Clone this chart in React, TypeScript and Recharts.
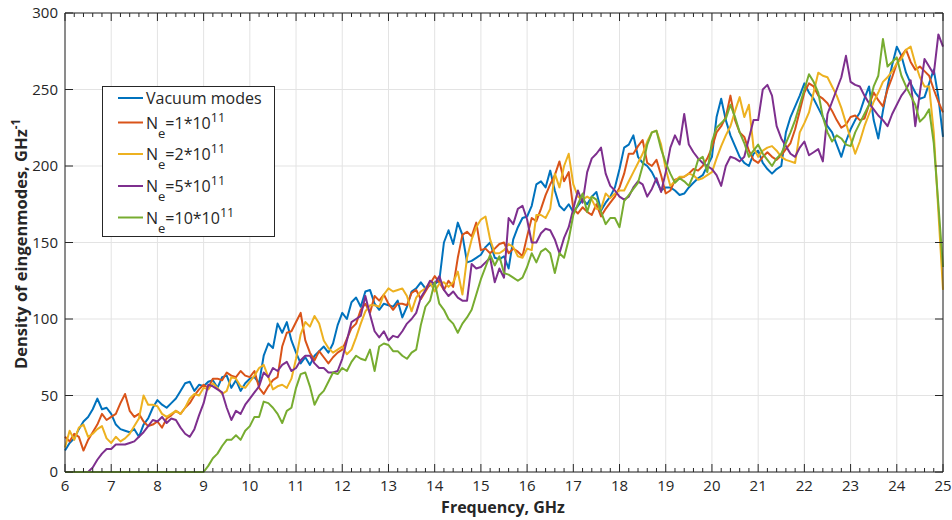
import { LineChart, Line, XAxis, YAxis, CartesianGrid, ReferenceLine } from "recharts";

// frequency grid, GHz (0.1 GHz step from 6 to 25)
const frequency = Array.from({ length: 191 }, (_, i) => Math.round(60 + i) / 10);

const vacuum = [
  14, 19, 22, 28, 33, 36, 41, 48, 41, 42,
  38, 31, 28, 27, 26, 28, 23, 31, 35, 42,
  47, 44, 42, 45, 48, 53, 58, 59, 53, 57,
  56, 59, 60, 55, 62, 63, 55, 60, 53, 58,
  61, 62, 58, 76, 84, 81, 97, 91, 98, 86,
  78, 71, 75, 70, 76, 79, 82, 78, 84, 96,
  104, 100, 111, 114, 108, 118, 119, 110, 106, 110,
  109, 108, 112, 101, 108, 118, 120, 124, 120, 122,
  123, 125, 150, 158, 149, 163, 155, 137, 138, 140,
  142, 147, 150, 140, 139, 141, 133, 152, 160, 166,
  167, 174, 188, 190, 186, 197, 184, 174, 171, 175,
  170, 174, 178, 175, 180, 183, 171, 176, 180, 186,
  198, 212, 214, 220, 206, 202, 200, 196, 190, 184,
  186, 186, 184, 181, 182, 186, 189, 192, 194, 200,
  206, 232, 244, 230, 220, 213, 206, 202, 200, 208,
  210, 202, 198, 195, 198, 200, 222, 232, 239, 246,
  254, 248, 244, 238, 232, 226, 222, 214, 206, 216,
  224, 230, 235, 244, 252, 230, 218, 236, 252, 266,
  278, 272, 261, 254, 248, 244, 245, 254, 263, 245,
  219,
];

const ne1 = [
  23, 20, 25, 23, 14, 21, 26, 31, 38, 34,
  36, 38, 45, 51, 40, 36, 38, 33, 30, 31,
  33, 29, 35, 37, 40, 38, 42, 45, 50, 54,
  57, 55, 61, 61, 60, 65, 63, 62, 66, 63,
  62, 66, 55, 51, 56, 60, 62, 82, 91, 92,
  98, 104, 86, 78, 73, 79, 75, 71, 75, 78,
  80, 87, 94, 97, 106, 110, 104, 115, 112, 116,
  110, 106, 110, 110, 109, 117, 119, 113, 118, 123,
  128, 124, 119, 125, 121, 140, 155, 157, 154, 163,
  145, 146, 143, 146, 149, 150, 143, 146, 144, 141,
  154, 166, 164, 172, 181, 188, 194, 203, 190, 196,
  172, 169, 173, 170, 168, 175, 167, 172, 176, 180,
  186, 195, 208, 208, 213, 217, 202, 200, 204, 194,
  182, 184, 191, 192, 193, 195, 198, 197, 200, 205,
  212, 222, 226, 232, 246, 230, 222, 219, 210, 204,
  202, 206, 209, 206, 204, 207, 211, 215, 224, 236,
  248, 254, 252, 246, 244, 241, 236, 230, 225, 227,
  232, 233, 230, 231, 240, 248, 243, 239, 250, 258,
  267, 272, 276, 268, 263, 265, 262, 259, 250, 242,
  235,
];

const ne2 = [
  16, 27, 21, 29, 31, 23, 25, 28, 30, 22,
  19, 23, 20, 22, 25, 30, 35, 50, 44, 44,
  43, 38, 36, 38, 40, 38, 42, 48, 51, 50,
  55, 54, 58, 55, 51, 53, 62, 61, 56, 55,
  59, 63, 68, 70, 62, 54, 56, 57, 55, 61,
  74, 90, 98, 95, 102, 97, 86, 81, 78, 80,
  82, 77, 80, 88, 97, 105, 109, 109, 108, 116,
  120, 118, 119, 120, 115, 105, 114, 118, 120, 124,
  118, 123, 124, 121, 124, 131, 116, 140, 152, 160,
  165, 167, 152, 143, 143, 145, 149, 147, 141, 140,
  146, 145, 168, 168, 166, 172, 195, 186, 200, 208,
  188, 180, 178, 180, 178, 172, 172, 182, 179, 182,
  184, 184, 190, 196, 202, 208, 216, 222, 223, 214,
  198, 187, 190, 193, 193, 195, 194, 191, 192, 194,
  196, 205, 213, 220, 226, 236, 245, 232, 240, 212,
  206, 210, 212, 213, 210, 206, 204, 203, 202, 222,
  228, 235, 248, 261, 259, 258, 252, 246, 238, 228,
  218, 208, 216, 226, 234, 242, 248, 255, 258, 262,
  267, 270, 276, 278, 267, 258, 252, 252, 222, 170,
  119,
];

const ne5 = [
  0, 0, 0, 0, 0, 0, 3, 8, 12, 15,
  15, 18, 18, 18, 19, 20, 23, 26, 30, 34,
  33, 36, 32, 35, 34, 29, 25, 23, 28, 37,
  45, 57, 56, 54, 52, 42, 34, 40, 38, 44,
  48, 52, 56, 65, 62, 68, 66, 70, 72, 66,
  68, 73, 76, 76, 71, 68, 68, 65, 65, 66,
  74, 86, 98, 100, 102, 115, 103, 92, 88, 92,
  86, 89, 88, 92, 97, 100, 104, 114, 119, 125,
  123, 128, 119, 115, 118, 114, 112, 112, 136, 133,
  134, 137, 140, 124, 133, 127, 166, 162, 172, 174,
  165, 150, 150, 156, 159, 158, 152, 143, 153, 160,
  172, 184, 176, 196, 205, 208, 212, 195, 187, 184,
  180, 178, 180, 186, 190, 188, 180, 185, 192, 183,
  196, 212, 220, 214, 234, 214, 209, 205, 202, 200,
  198, 194, 187, 200, 206, 205, 203, 206, 218, 230,
  230, 250, 253, 246, 226, 218, 213, 208, 206, 212,
  216, 207, 209, 211, 203, 234, 242, 250, 258, 272,
  255, 253, 252, 246, 241, 237, 233, 230, 226, 234,
  240, 246, 250, 256, 226, 248, 270, 265, 260, 286,
  278,
];

const ne10 = [
  0, 0, 0, 0, 0, 0, 0, 0, 0, 0,
  0, 0, 0, 0, 0, 0, 0, 0, 0, 0,
  0, 0, 0, 0, 0, 0, 0, 0, 0, 0,
  0, 4, 9, 12, 17, 21, 21, 24, 21, 27,
  30, 36, 36, 46, 45, 42, 38, 32, 40, 42,
  55, 64, 65, 56, 44, 50, 53, 59, 65, 64,
  68, 66, 72, 76, 74, 73, 80, 66, 82, 84,
  83, 79, 79, 76, 74, 78, 80, 96, 108, 112,
  124, 110, 106, 100, 97, 91, 97, 101, 106, 116,
  126, 134, 142, 135, 141, 130, 129, 127, 125, 127,
  134, 143, 137, 144, 146, 143, 130, 143, 140, 152,
  168, 175, 182, 170, 180, 178, 170, 162, 166, 166,
  160, 177, 181, 185, 189, 200, 214, 222, 223, 211,
  202, 195, 189, 192, 190, 187, 194, 204, 206, 196,
  216, 225, 228, 231, 240, 232, 222, 215, 206, 210,
  214, 208, 204, 200, 205, 208, 215, 222, 230, 240,
  250, 260, 255, 248, 232, 222, 216, 220, 218, 214,
  213, 222, 228, 234, 240, 252, 259, 283, 265, 268,
  271, 259, 252, 246, 240, 229, 232, 237, 215, 175,
  134,
];

const xTicks = [6, 7, 8, 9, 10, 11, 12, 13, 14, 15, 16, 17, 18, 19, 20, 21, 22, 23, 24, 25];
// every 0.2 GHz, for the minor tick marks
const xAllTicks = Array.from({ length: 96 }, (_, i) => Math.round(30 + i) / 5);
const yTicks = [0, 50, 100, 150, 200, 250, 300];

const series = [
  { key: "vacuum", color: "#0072BD", label: "Vacuum modes" },
  { key: "ne1", color: "#D95319", density: "1" },
  { key: "ne2", color: "#EDB120", density: "2" },
  { key: "ne5", color: "#7E2F8E", density: "5" },
  { key: "ne10", color: "#77AC30", density: "10" },
];

const rows = frequency.map((f, i) => ({
  f,
  vacuum: vacuum[i],
  ne1: ne1[i],
  ne2: ne2[i],
  ne5: ne5[i],
  ne10: ne10[i],
}));

const W = 952;
const H = 520;
const MARGIN = { top: 13, right: 9, bottom: 0, left: 0 };
const PLOT_TOP = MARGIN.top;
const PLOT_RIGHT = W - MARGIN.right;
const X_TICK_MARGIN = 8;
const Y_TICK_MARGIN = 7;
const AXIS = "#262626";
const FONT = "'Open Sans', 'DejaVu Sans', sans-serif";

// bottom labels + inward tick marks on the bottom and top edges (MATLAB box style)
function FreqTick(props: any) {
  const { x, y, payload } = props;
  const v = payload.value;
  const major = Math.abs(v - Math.round(v)) < 1e-6;
  const len = major ? 8 : 4;
  const bottom = y - X_TICK_MARGIN;
  return (
    <g>
      <line x1={x} x2={x} y1={bottom} y2={bottom - len} stroke={AXIS} strokeWidth={1} />
      <line x1={x} x2={x} y1={PLOT_TOP} y2={PLOT_TOP + len} stroke={AXIS} strokeWidth={1} />
      {major && (
        <text x={x} y={y} dy="0.71em" textAnchor="middle" fill={AXIS} fontSize={15}>
          {Math.round(v)}
        </text>
      )}
    </g>
  );
}

function DensityTick(props: any) {
  const { x, y, payload } = props;
  const left = x + Y_TICK_MARGIN;
  return (
    <g>
      <line x1={left} x2={left + 8} y1={y} y2={y} stroke={AXIS} strokeWidth={1} />
      <line x1={PLOT_RIGHT} x2={PLOT_RIGHT - 8} y1={y} y2={y} stroke={AXIS} strokeWidth={1} />
      <text x={x} y={y} dy="0.355em" textAnchor="end" fill={AXIS} fontSize={15}>
        {payload.value}
      </text>
    </g>
  );
}

function Overlay() {
  const rowY = [98, 122.5, 154, 186, 217.5];
  return (
    <svg width={W} height={H} style={{ position: "absolute", left: 0, top: 0, pointerEvents: "none" }} fontFamily={FONT}>
      <text x={503} y={513} textAnchor="middle" fontSize={16} fontWeight={700} fill={AXIS}>
        Frequency, GHz
      </text>
      <text transform="translate(27,244) rotate(-90)" textAnchor="middle" fontSize={16.5} fontWeight={700} fill={AXIS}>
        Density of eingenmodes, GHz
        <tspan dy={-7} fontSize={11.5}>-1</tspan>
      </text>

      <rect x={102.5} y={86.5} width={172} height={150} fill="#fff" stroke={AXIS} strokeWidth={1} />
      {series.map((s, i) => (
        <g key={s.key}>
          <line x1={118} x2={143} y1={rowY[i]} y2={rowY[i]} stroke={s.color} strokeWidth={2} />
          {s.label ? (
            <text x={146} y={rowY[i] + 6} fontSize={16} fill={AXIS}>
              {s.label}
            </text>
          ) : (
            <text x={146} y={rowY[i] + 6} fontSize={16} fill={AXIS}>
              N
              <tspan fontSize={13} dy={9}>e</tspan>
              <tspan dy={-9}>{`=${s.density}*10`}</tspan>
              <tspan fontSize={12.5} dy={-7}>11</tspan>
            </text>
          )}
        </g>
      ))}
    </svg>
  );
}

export default function App() {
  return (
    <div style={{ position: "absolute", left: 0, top: 0, width: W, height: H, background: "#fff", fontFamily: FONT }}>
      <LineChart width={W} height={H} data={rows} margin={MARGIN}>
        <CartesianGrid xAxisId="f" yAxisId="d" stroke="#e3e3e3" strokeWidth={1} verticalValues={xTicks} />
        <XAxis
          xAxisId="f"
          dataKey="f"
          type="number"
          domain={[6, 25]}
          ticks={xAllTicks}
          interval={0}
          height={48}
          tickLine={false}
          tickSize={0}
          tickMargin={X_TICK_MARGIN}
          stroke={AXIS}
          tick={<FreqTick />}
        />
        <YAxis
          yAxisId="d"
          type="number"
          domain={[0, 300]}
          ticks={yTicks}
          interval={0}
          width={65}
          tickLine={false}
          tickSize={0}
          tickMargin={Y_TICK_MARGIN}
          stroke={AXIS}
          tick={<DensityTick />}
        />
        {series.map((s) => (
          <Line
            key={s.key}
            xAxisId="f"
            yAxisId="d"
            type="linear"
            dataKey={s.key}
            stroke={s.color}
            strokeWidth={2}
            strokeLinejoin="round"
            dot={false}
            activeDot={false}
            isAnimationActive={false}
          />
        ))}
        <ReferenceLine xAxisId="f" yAxisId="d" y={300} stroke={AXIS} strokeWidth={1} />
        <ReferenceLine xAxisId="f" yAxisId="d" x={25} stroke={AXIS} strokeWidth={1} />
      </LineChart>
      <Overlay />
    </div>
  );
}
